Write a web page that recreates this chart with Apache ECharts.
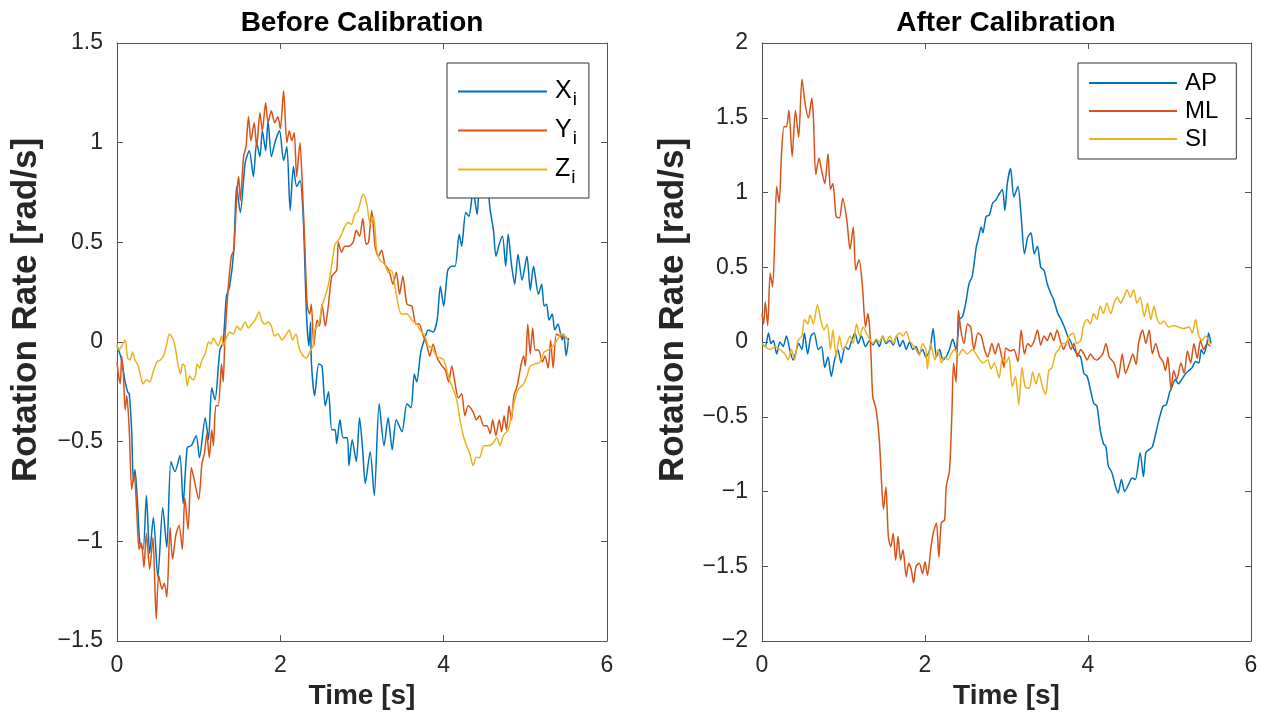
<!DOCTYPE html>
<html>
<head>
<meta charset="utf-8">
<script src="https://cdn.jsdelivr.net/npm/echarts@6/dist/echarts.min.js"></script>
<style>
html, body { margin: 0; padding: 0; background: #fff; }
#main { width: 1261px; height: 715px; }
</style>
</head>
<body>
<div id="main"></div>
<script>
// [time (s), rotation rate (rad/s)] pairs
var beforeX = [[0,-0.02],[0.05,-0.08],[0.1,-0.2],[0.13,-0.25],[0.15,-0.26],[0.18,-0.45],[0.2,-0.7],[0.22,-0.64],[0.25,-0.8],[0.28,-1.01],[0.32,-1.04],[0.36,-0.77],[0.4,-1.06],[0.445,-0.88],[0.5,-1.18],[0.56,-0.83],[0.61,-1.03],[0.66,-0.6],[0.71,-0.65],[0.77,-0.57],[0.81,-0.81],[0.86,-0.53],[0.91,-0.52],[0.97,-0.47],[1.01,-0.58],[1.08,-0.38],[1.12,-0.49],[1.16,-0.23],[1.2,-0.29],[1.26,-0.04],[1.3,0.0],[1.34,0.23],[1.38,0.28],[1.43,0.46],[1.465,0.78],[1.51,0.65],[1.57,0.9],[1.62,0.96],[1.67,0.83],[1.71,1.0],[1.75,0.93],[1.78,1.06],[1.82,0.96],[1.85,1.11],[1.89,0.93],[1.94,1.01],[1.99,1.06],[2.04,0.91],[2.08,0.98],[2.12,0.66],[2.16,0.88],[2.2,0.78],[2.24,0.81],[2.28,0.63],[2.32,0.14],[2.35,-0.02],[2.37,0.1],[2.38,-0.1],[2.42,-0.27],[2.47,-0.11],[2.51,-0.12],[2.55,-0.32],[2.59,-0.25],[2.63,-0.44],[2.67,-0.44],[2.69,-0.51],[2.73,-0.39],[2.77,-0.48],[2.82,-0.48],[2.84,-0.62],[2.88,-0.49],[2.93,-0.6],[2.97,-0.38],[3.01,-0.55],[3.04,-0.71],[3.1,-0.55],[3.15,-0.77],[3.21,-0.31],[3.27,-0.52],[3.32,-0.38],[3.37,-0.54],[3.42,-0.39],[3.49,-0.45],[3.55,-0.31],[3.6,-0.33],[3.64,-0.16],[3.67,-0.2],[3.72,-0.05],[3.77,0.02],[3.81,0.06],[3.87,0.05],[3.92,0.11],[3.96,0.28],[4.0,0.18],[4.05,0.36],[4.1,0.38],[4.14,0.38],[4.19,0.54],[4.22,0.48],[4.27,0.65],[4.31,0.63],[4.36,0.76],[4.41,0.64],[4.44,0.8],[4.48,0.73],[4.53,0.8],[4.57,0.66],[4.61,0.56],[4.64,0.43],[4.68,0.49],[4.72,0.53],[4.76,0.38],[4.79,0.54],[4.83,0.39],[4.87,0.29],[4.91,0.44],[4.96,0.31],[5.02,0.43],[5.06,0.26],[5.1,0.38],[5.16,0.24],[5.2,0.29],[5.23,0.18],[5.26,0.19],[5.29,0.11],[5.33,0.14],[5.36,0.06],[5.4,0.09],[5.45,0.01],[5.47,0.04],[5.5,-0.07],[5.53,0.02]];
var beforeY = [[0,-0.1],[0.016,-0.16],[0.04,-0.21],[0.057,-0.07],[0.078,-0.16],[0.1,-0.34],[0.12,-0.27],[0.15,-0.44],[0.18,-0.74],[0.21,-0.66],[0.24,-0.83],[0.27,-1.04],[0.3,-1.01],[0.33,-1.13],[0.36,-0.96],[0.4,-1.14],[0.44,-0.98],[0.48,-1.39],[0.51,-1.17],[0.55,-1.24],[0.58,-1.21],[0.61,-1.28],[0.65,-0.93],[0.68,-1.09],[0.72,-0.97],[0.76,-0.92],[0.8,-1.04],[0.83,-0.78],[0.87,-0.94],[0.91,-0.63],[0.94,-0.68],[1.0,-0.79],[1.04,-0.61],[1.07,-0.56],[1.1,-0.46],[1.13,-0.58],[1.16,-0.44],[1.18,-0.52],[1.21,-0.32],[1.24,-0.32],[1.28,-0.11],[1.3,-0.2],[1.32,0],[1.36,0.26],[1.4,0.43],[1.43,0.46],[1.47,0.76],[1.49,0.83],[1.51,0.71],[1.55,0.93],[1.58,0.98],[1.61,1.13],[1.64,1.01],[1.68,1.1],[1.71,0.98],[1.75,1.15],[1.78,1.06],[1.82,1.2],[1.85,1.1],[1.89,1.16],[1.93,1.1],[1.97,1.13],[2.0,1.07],[2.04,1.26],[2.08,1.0],[2.11,1.06],[2.14,1.01],[2.17,1.05],[2.2,0.83],[2.24,1.0],[2.27,0.78],[2.3,0.48],[2.33,0.18],[2.36,0.14],[2.38,0.19],[2.41,-0.02],[2.45,0.11],[2.48,0.08],[2.51,0.19],[2.55,0.08],[2.59,0.19],[2.63,0.33],[2.69,0.36],[2.71,0.5],[2.75,0.45],[2.79,0.48],[2.84,0.48],[2.89,0.5],[2.93,0.56],[2.97,0.53],[3.01,0.62],[3.05,0.49],[3.08,0.5],[3.12,0.66],[3.16,0.48],[3.2,0.43],[3.24,0.46],[3.28,0.39],[3.33,0.36],[3.38,0.29],[3.42,0.35],[3.46,0.24],[3.5,0.33],[3.55,0.19],[3.61,0.18],[3.66,0.09],[3.7,0.09],[3.75,0.03],[3.79,-0.01],[3.83,-0.07],[3.87,-0.01],[3.92,-0.08],[3.98,-0.12],[4.02,-0.14],[4.06,-0.2],[4.1,-0.12],[4.14,-0.21],[4.18,-0.28],[4.22,-0.26],[4.26,-0.37],[4.3,-0.32],[4.36,-0.35],[4.4,-0.39],[4.44,-0.37],[4.49,-0.42],[4.53,-0.42],[4.57,-0.46],[4.6,-0.39],[4.64,-0.47],[4.68,-0.39],[4.71,-0.45],[4.74,-0.37],[4.77,-0.44],[4.8,-0.32],[4.83,-0.39],[4.86,-0.27],[4.9,-0.22],[4.95,-0.11],[4.98,-0.07],[5.0,-0.12],[5.03,0.09],[5.06,-0.06],[5.09,0.07],[5.12,-0.04],[5.16,-0.04],[5.21,-0.1],[5.24,-0.07],[5.28,-0.13],[5.31,0.01],[5.34,-0.13],[5.38,0.04],[5.42,0.03],[5.48,0.03],[5.53,0]];
var beforeZ = [[0,-0.01],[0.02,-0.04],[0.06,-0.02],[0.1,0.01],[0.13,-0.08],[0.16,-0.09],[0.19,-0.05],[0.22,-0.09],[0.26,-0.12],[0.3,-0.19],[0.32,-0.21],[0.36,-0.19],[0.4,-0.2],[0.45,-0.14],[0.49,-0.1],[0.53,-0.09],[0.57,-0.07],[0.61,-0.01],[0.64,0.04],[0.68,0.02],[0.71,-0.02],[0.75,-0.12],[0.78,-0.16],[0.8,-0.11],[0.83,-0.12],[0.86,-0.22],[0.89,-0.17],[0.93,-0.19],[0.96,-0.17],[0.98,-0.11],[1.01,-0.13],[1.04,-0.09],[1.08,-0.06],[1.12,0],[1.15,-0.01],[1.18,0.02],[1.21,0],[1.24,-0.02],[1.28,0.03],[1.3,-0.02],[1.34,0.02],[1.38,0.05],[1.42,0.04],[1.47,0.08],[1.51,0.06],[1.57,0.1],[1.61,0.07],[1.65,0.09],[1.69,0.11],[1.74,0.15],[1.77,0.11],[1.81,0.09],[1.85,0.1],[1.89,0.08],[1.93,0.03],[1.97,0.04],[2.02,0.01],[2.06,0.03],[2.11,0.06],[2.15,0.01],[2.19,0.04],[2.23,-0.03],[2.28,-0.07],[2.32,-0.08],[2.36,-0.05],[2.4,-0.02],[2.42,0.06],[2.47,0.09],[2.51,0.18],[2.55,0.23],[2.59,0.29],[2.63,0.39],[2.67,0.49],[2.71,0.51],[2.75,0.54],[2.79,0.58],[2.83,0.6],[2.87,0.59],[2.91,0.64],[2.95,0.66],[3.0,0.73],[3.02,0.74],[3.06,0.69],[3.1,0.59],[3.14,0.63],[3.18,0.46],[3.22,0.41],[3.28,0.39],[3.32,0.35],[3.36,0.36],[3.42,0.24],[3.48,0.14],[3.55,0.14],[3.61,0.11],[3.67,0.09],[3.71,0.06],[3.77,0.03],[3.81,-0.02],[3.86,-0.03],[3.91,-0.07],[4.0,-0.09],[4.05,-0.16],[4.08,-0.2],[4.12,-0.24],[4.16,-0.29],[4.2,-0.39],[4.24,-0.47],[4.28,-0.52],[4.32,-0.56],[4.36,-0.62],[4.4,-0.58],[4.44,-0.58],[4.49,-0.52],[4.55,-0.52],[4.6,-0.51],[4.65,-0.48],[4.69,-0.52],[4.73,-0.47],[4.79,-0.44],[4.83,-0.37],[4.87,-0.29],[4.91,-0.24],[4.98,-0.21],[5.02,-0.17],[5.06,-0.12],[5.12,-0.11],[5.18,-0.1],[5.23,-0.05],[5.28,-0.04],[5.34,-0.02],[5.39,0.01],[5.44,0.04],[5.48,0.03],[5.53,0]];

var afterAP = [[0,-0.01],[0.04,-0.03],[0.08,0.06],[0.11,-0.01],[0.14,0.01],[0.18,-0.08],[0.22,0],[0.26,-0.03],[0.3,0.04],[0.34,-0.05],[0.38,-0.12],[0.41,-0.08],[0.45,-0.01],[0.49,-0.05],[0.52,0.06],[0.56,-0.08],[0.6,0.04],[0.64,0.06],[0.69,-0.05],[0.73,-0.03],[0.77,-0.17],[0.81,-0.1],[0.85,-0.23],[0.89,-0.12],[0.93,-0.05],[0.97,-0.14],[1.02,-0.03],[1.06,-0.05],[1.1,0.01],[1.14,0.06],[1.18,-0.01],[1.22,0.04],[1.27,-0.03],[1.32,0.01],[1.36,-0.02],[1.4,0.01],[1.44,-0.03],[1.48,0.04],[1.52,-0.01],[1.57,0.01],[1.61,-0.02],[1.65,0.04],[1.69,-0.03],[1.73,0.01],[1.77,-0.05],[1.81,0],[1.85,-0.05],[1.89,-0.03],[1.93,-0.08],[1.97,-0.05],[2.01,-0.1],[2.06,-0.05],[2.1,0.09],[2.14,-0.1],[2.18,-0.05],[2.22,-0.12],[2.26,-0.1],[2.3,-0.05],[2.34,0.02],[2.38,-0.05],[2.41,0.08],[2.42,0.15],[2.46,0.17],[2.5,0.26],[2.54,0.39],[2.58,0.44],[2.63,0.64],[2.65,0.68],[2.69,0.77],[2.71,0.73],[2.75,0.84],[2.79,0.85],[2.83,0.93],[2.87,0.95],[2.91,0.99],[2.95,1.02],[2.98,0.88],[3.01,1.06],[3.05,1.16],[3.09,0.97],[3.14,1.04],[3.18,0.84],[3.22,0.59],[3.26,0.7],[3.3,0.73],[3.34,0.59],[3.38,0.64],[3.42,0.5],[3.46,0.48],[3.5,0.39],[3.54,0.33],[3.58,0.28],[3.63,0.19],[3.67,0.15],[3.71,0.1],[3.75,0.04],[3.79,0],[3.83,-0.05],[3.87,-0.08],[3.91,-0.1],[3.95,-0.21],[3.99,-0.23],[4.03,-0.32],[4.07,-0.41],[4.11,-0.43],[4.15,-0.59],[4.19,-0.68],[4.22,-0.7],[4.25,-0.83],[4.29,-0.87],[4.34,-0.97],[4.37,-1.01],[4.41,-0.92],[4.45,-1.0],[4.5,-0.95],[4.54,-0.91],[4.58,-0.92],[4.64,-0.74],[4.68,-0.9],[4.71,-0.74],[4.75,-0.72],[4.79,-0.7],[4.84,-0.59],[4.88,-0.5],[4.92,-0.43],[4.96,-0.42],[5.0,-0.34],[5.03,-0.3],[5.07,-0.25],[5.11,-0.28],[5.15,-0.25],[5.2,-0.21],[5.24,-0.19],[5.28,-0.17],[5.32,-0.13],[5.36,-0.14],[5.39,-0.05],[5.42,-0.08],[5.46,-0.01],[5.48,0.06],[5.51,-0.01]];
var afterML = [[0,0.19],[0.02,0.12],[0.04,0.27],[0.07,0.11],[0.1,0.46],[0.13,0.37],[0.16,0.75],[0.18,1.04],[0.21,0.93],[0.24,1.26],[0.27,1.44],[0.3,1.44],[0.33,1.55],[0.37,1.24],[0.41,1.55],[0.45,1.37],[0.49,1.76],[0.53,1.59],[0.57,1.5],[0.61,1.63],[0.63,1.51],[0.66,1.12],[0.7,1.23],[0.73,1.15],[0.77,1.06],[0.81,1.26],[0.84,1.02],[0.87,1.06],[0.91,0.84],[0.95,0.83],[0.99,0.96],[1.04,0.82],[1.08,0.62],[1.12,0.77],[1.15,0.48],[1.19,0.55],[1.23,0.39],[1.27,0.1],[1.3,0.19],[1.32,0.1],[1.34,-0.12],[1.36,-0.37],[1.4,-0.45],[1.44,-0.66],[1.47,-0.97],[1.49,-1.12],[1.52,-0.97],[1.55,-1.3],[1.58,-1.37],[1.61,-1.28],[1.64,-1.46],[1.67,-1.3],[1.7,-1.46],[1.73,-1.39],[1.77,-1.57],[1.8,-1.48],[1.83,-1.52],[1.86,-1.61],[1.89,-1.5],[1.93,-1.48],[1.97,-1.55],[2.0,-1.47],[2.03,-1.56],[2.07,-1.39],[2.1,-1.28],[2.14,-1.21],[2.17,-1.44],[2.2,-1.21],[2.24,-1.19],[2.26,-0.97],[2.3,-0.86],[2.33,-0.48],[2.35,-0.14],[2.38,-0.27],[2.4,0.04],[2.41,0.21],[2.44,0.08],[2.48,-0.01],[2.52,0.12],[2.56,0.1],[2.6,-0.05],[2.65,0.06],[2.69,0.04],[2.73,-0.05],[2.77,-0.1],[2.82,-0.01],[2.86,-0.08],[2.9,-0.01],[2.94,-0.1],[2.97,-0.17],[2.99,-0.04],[3.05,-0.06],[3.09,-0.05],[3.14,-0.13],[3.18,0.08],[3.22,-0.08],[3.26,-0.01],[3.3,-0.03],[3.34,0.01],[3.38,0.08],[3.42,-0.02],[3.46,0.04],[3.5,0.01],[3.54,0.06],[3.58,0.01],[3.62,0.08],[3.66,0.01],[3.7,-0.05],[3.75,0.01],[3.79,-0.05],[3.83,-0.01],[3.87,-0.1],[3.91,-0.05],[3.95,-0.08],[3.99,-0.12],[4.03,-0.08],[4.07,-0.11],[4.11,-0.12],[4.18,-0.08],[4.22,-0.01],[4.26,-0.1],[4.32,-0.14],[4.37,-0.24],[4.42,-0.08],[4.46,-0.21],[4.51,-0.14],[4.55,-0.08],[4.59,-0.15],[4.62,-0.01],[4.67,0.08],[4.71,-0.01],[4.75,0.08],[4.79,-0.08],[4.83,-0.01],[4.88,-0.1],[4.92,-0.13],[4.95,-0.19],[4.98,-0.1],[5.02,-0.32],[5.05,-0.19],[5.09,-0.25],[5.14,-0.14],[5.18,-0.21],[5.22,-0.06],[5.26,-0.14],[5.3,-0.01],[5.34,-0.11],[5.38,0.01],[5.42,-0.05],[5.46,-0.01],[5.5,-0.03]];
var afterSI = [[0,-0.01],[0.04,-0.03],[0.1,-0.05],[0.16,-0.03],[0.22,-0.05],[0.28,-0.08],[0.32,-0.12],[0.36,-0.05],[0.4,-0.12],[0.44,0.01],[0.49,0.04],[0.52,0.15],[0.56,0.12],[0.59,0.18],[0.63,0.12],[0.68,0.25],[0.72,0.15],[0.76,0.08],[0.8,0.12],[0.84,-0.05],[0.87,0.08],[0.91,-0.1],[0.95,0.04],[0.99,-0.05],[1.04,-0.01],[1.08,0.04],[1.12,-0.01],[1.16,0.12],[1.2,0.04],[1.24,0.1],[1.28,0.06],[1.32,0.02],[1.36,-0.01],[1.4,0.02],[1.44,0],[1.48,0.04],[1.52,0],[1.57,0.04],[1.61,-0.01],[1.65,0.04],[1.69,0.06],[1.73,0.04],[1.77,0.07],[1.81,0.01],[1.85,-0.02],[1.89,-0.05],[1.93,-0.09],[1.97,-0.01],[2.01,-0.05],[2.03,-0.18],[2.07,-0.01],[2.12,-0.12],[2.16,-0.05],[2.2,-0.14],[2.24,-0.1],[2.28,-0.12],[2.32,-0.08],[2.36,-0.05],[2.41,-0.09],[2.46,-0.05],[2.52,-0.08],[2.58,-0.05],[2.65,-0.1],[2.71,-0.14],[2.77,-0.12],[2.81,-0.18],[2.85,-0.14],[2.91,-0.24],[2.95,-0.1],[2.99,-0.14],[3.03,-0.1],[3.07,-0.3],[3.11,-0.23],[3.15,-0.42],[3.19,-0.17],[3.23,-0.3],[3.28,-0.31],[3.32,-0.2],[3.36,-0.28],[3.4,-0.21],[3.44,-0.3],[3.48,-0.35],[3.52,-0.19],[3.56,-0.17],[3.6,-0.08],[3.64,-0.05],[3.69,-0.01],[3.73,-0.01],[3.77,0.04],[3.82,0.06],[3.86,-0.01],[3.91,0.01],[3.95,0.12],[3.99,0.15],[4.03,0.12],[4.07,0.19],[4.11,0.15],[4.15,0.24],[4.19,0.19],[4.23,0.26],[4.28,0.19],[4.32,0.26],[4.36,0.3],[4.4,0.26],[4.44,0.3],[4.48,0.35],[4.52,0.3],[4.56,0.35],[4.6,0.26],[4.64,0.3],[4.69,0.17],[4.73,0.26],[4.77,0.15],[4.81,0.24],[4.85,0.15],[4.89,0.12],[4.93,0.14],[4.99,0.1],[5.05,0.11],[5.11,0.1],[5.17,0.09],[5.24,0.1],[5.28,0.06],[5.32,0.15],[5.36,0.04],[5.4,0.01],[5.44,0.04],[5.5,-0.01]];

var titles = ['Before Calibration', 'After Calibration'];
var namesBefore = ['X', 'Y', 'Z'];   // drawn with a subscript i
var namesAfter = ['AP', 'ML', 'SI'];
var yRangeBefore = [-1.5, 1.5];
var yRangeAfter = [-2, 2];

var colors = ['#0072BD', '#D95319', '#EDB120'];
var font = 'Liberation Sans, Helvetica, Arial, sans-serif';
var boxColor = '#555555';

function minusSign(v) {
    return String(v).replace('-', '\u2212');
}

// one axis; the top and right ones only close the box and repeat the ticks
function xAxisFor(grid, pos) {
    return {
        type: 'value', gridIndex: grid, position: pos,
        min: 0, max: 6, interval: 2,
        axisLine: {show: true, onZero: false, lineStyle: {color: boxColor, width: 1}},
        axisTick: {show: true, inside: true, length: 6, lineStyle: {color: boxColor}},
        axisLabel: {show: pos === 'bottom', margin: 13, fontSize: 23, color: '#262626', fontFamily: font},
        splitLine: {show: false},
        name: pos === 'bottom' ? 'Time [s]' : '',
        nameLocation: 'middle', nameGap: 36,
        nameTextStyle: {fontSize: 28, fontWeight: 'bold', color: '#262626', fontFamily: font}
    };
}
function yAxisFor(grid, pos, range, gap) {
    return {
        type: 'value', gridIndex: grid, position: pos,
        min: range[0], max: range[1], interval: 0.5,
        axisLine: {show: true, onZero: false, lineStyle: {color: boxColor, width: 1}},
        axisTick: {show: true, inside: true, length: 6, lineStyle: {color: boxColor}},
        axisLabel: {show: pos === 'left', margin: 14, fontSize: 23, color: '#262626', fontFamily: font, formatter: minusSign},
        splitLine: {show: false},
        name: pos === 'left' ? 'Rotation Rate [rad/s]' : '',
        nameLocation: 'middle', nameGap: gap,
        // left padding pushes the rotated label a little up the axis, as in the figure
        nameTextStyle: {fontSize: 35, fontWeight: 'bold', color: '#262626', fontFamily: font, padding: [0, 0, 0, 64]}
    };
}
function lineSeries(name, data, axis, k) {
    return {
        name: name, type: 'line', data: data,
        xAxisIndex: axis, yAxisIndex: axis,
        showSymbol: false, symbol: 'none', smooth: 0.25,
        lineStyle: {width: 1.5, color: colors[k]},
        itemStyle: {color: colors[k]},
        emphasis: {disabled: true}, animation: false
    };
}

var chart = echarts.init(document.getElementById('main'));
var option = {
    backgroundColor: '#fff',
    animation: false,
    title: [
        {text: titles[0], left: 362, top: 9, textAlign: 'center', padding: 0,
            textStyle: {fontSize: 28, fontWeight: 'bold', color: '#000', fontFamily: font}},
        {text: titles[1], left: 1006, top: 9, textAlign: 'center', padding: 0,
            textStyle: {fontSize: 28, fontWeight: 'bold', color: '#000', fontFamily: font}}
    ],
    grid: [
        {left: 117, top: 43, width: 490, height: 598, containLabel: false},
        {left: 762, top: 43, width: 489, height: 598, containLabel: false}
    ],
    xAxis: [xAxisFor(0, 'bottom'), xAxisFor(0, 'top'), xAxisFor(1, 'bottom'), xAxisFor(1, 'top')],
    yAxis: [yAxisFor(0, 'left', yRangeBefore, 73), yAxisFor(0, 'right', yRangeBefore, 0),
        yAxisFor(1, 'left', yRangeAfter, 71), yAxisFor(1, 'right', yRangeAfter, 0)],
    legend: [
        {
            data: namesBefore, orient: 'vertical', left: 447, top: 63,
            icon: 'rect', itemWidth: 89, itemHeight: 2, itemGap: 4,
            padding: [11, 12, 11, 11],
            backgroundColor: '#fff', borderColor: '#333', borderWidth: 1, borderRadius: 0,
            selectedMode: false,
            formatter: function (n) { return '{m|' + n + '}{s|i}'; },
            textStyle: {
                color: '#000', fontFamily: font,
                rich: {
                    m: {fontSize: 25, lineHeight: 30, fontFamily: font, color: '#000', padding: [0, 0, 0, 3]},
                    s: {fontSize: 19, lineHeight: 30, fontFamily: font, color: '#000', padding: [16, 0, 0, 1]}
                }
            }
        },
        {
            data: namesAfter, orient: 'vertical', left: 1078, top: 63,
            icon: 'rect', itemWidth: 88, itemHeight: 2, itemGap: 4,
            padding: [8, 18, 8, 11],
            backgroundColor: '#fff', borderColor: '#333', borderWidth: 1, borderRadius: 0,
            selectedMode: false,
            textStyle: {color: '#000', fontSize: 24, lineHeight: 23, fontFamily: font, padding: [0, 0, 0, 3]}
        }
    ],
    series: [
        lineSeries('X', beforeX, 0, 0),
        lineSeries('Y', beforeY, 0, 1),
        lineSeries('Z', beforeZ, 0, 2),
        lineSeries('AP', afterAP, 2, 0),
        lineSeries('ML', afterML, 2, 1),
        lineSeries('SI', afterSI, 2, 2)
    ]
};
chart.setOption(option);
</script>
</body>
</html>
